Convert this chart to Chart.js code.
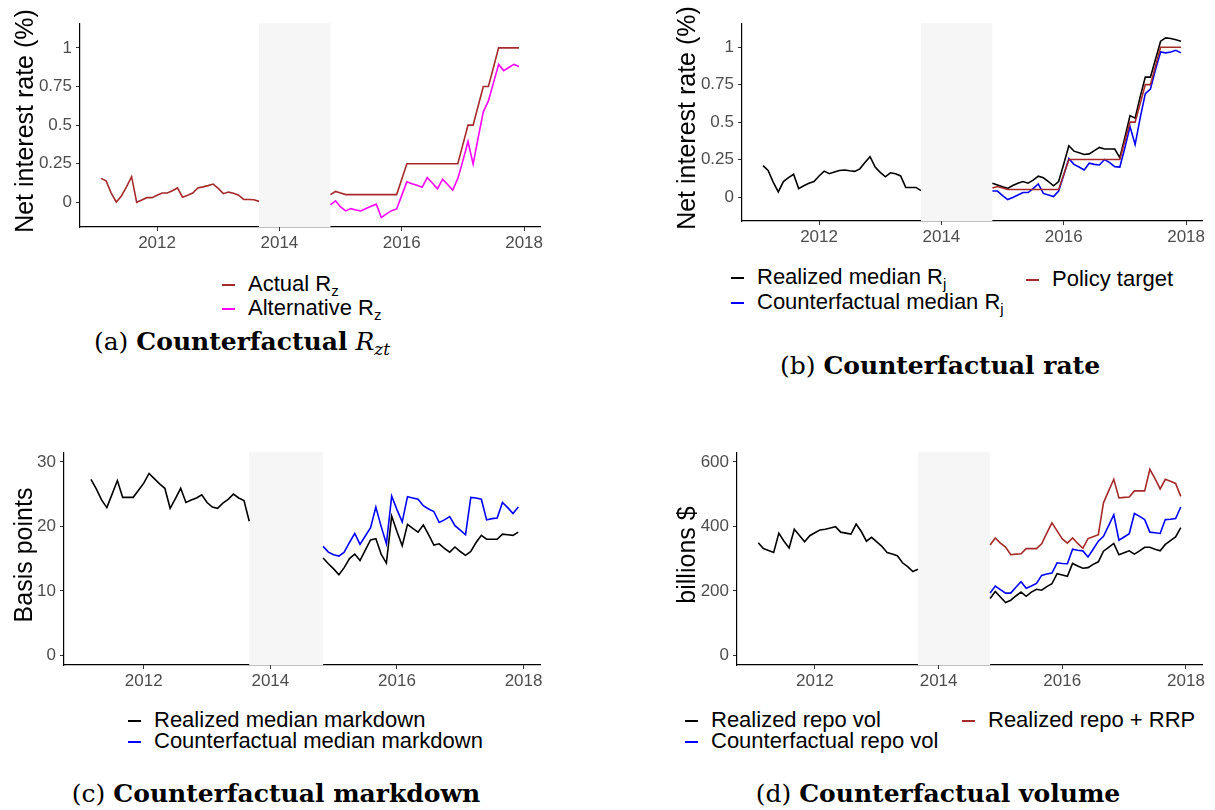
<!DOCTYPE html>
<html>
<head>
<meta charset="utf-8">
<script src="https://cdn.jsdelivr.net/npm/chart.js@4.4.0/dist/chart.umd.min.js"></script>
<style>
body{margin:0;background:#fff;width:1215px;height:810px;position:relative;overflow:hidden;font-family:'Liberation Sans',Arial,sans-serif}
canvas{position:absolute}
.ytitle{position:absolute;font-size:25px;color:#000;white-space:nowrap;transform:translate(-50%,-50%) rotate(-90deg)}
.leg{position:absolute;font-size:22px;line-height:22px;color:#000;white-space:nowrap;transform:translateY(-50%)}
.leg i{display:inline-block;width:13px;height:2px;vertical-align:middle;margin-right:13px}
.leg sub{font-size:15px;line-height:0;vertical-align:-5px}
.cap{position:absolute;font-family:'DejaVu Serif',serif;font-size:25px;color:#000;white-space:nowrap;transform:translate(-50%,-50%)}
.cap b{font-weight:bold}
.cap em sub{font-size:17px;line-height:0;vertical-align:-5px}
</style>
</head>
<body>
<canvas id="chartA"></canvas>
<canvas id="chartB"></canvas>
<canvas id="chartC"></canvas>
<canvas id="chartD"></canvas>

<div class="ytitle" style="left:24px;top:121px">Net interest rate (%)</div>
<div class="ytitle" style="left:686px;top:118px">Net interest rate (%)</div>
<div class="ytitle" style="left:23px;top:555px">Basis points</div>
<div class="ytitle" style="left:686px;top:555px">billions $</div>

<div class="leg" style="left:222px;top:284px"><i style="background:#A52A2A"></i>Actual R<sub>z</sub></div>
<div class="leg" style="left:222px;top:308px"><i style="background:#FF00FF"></i>Alternative R<sub>z</sub></div>

<div class="leg" style="left:731px;top:277px"><i style="background:#000"></i>Realized median R<sub>j</sub></div>
<div class="leg" style="left:731px;top:302px"><i style="background:#0000FF"></i>Counterfactual median R<sub>j</sub></div>
<div class="leg" style="left:1026px;top:279px"><i style="background:#A52A2A"></i>Policy target</div>

<div class="leg" style="left:128px;top:720px"><i style="background:#000"></i>Realized median markdown</div>
<div class="leg" style="left:128px;top:741px"><i style="background:#0000FF"></i>Counterfactual median markdown</div>

<div class="leg" style="left:685px;top:720px"><i style="background:#000"></i>Realized repo vol</div>
<div class="leg" style="left:685px;top:741px"><i style="background:#0000FF"></i>Counterfactual repo vol</div>
<div class="leg" style="left:962px;top:720px"><i style="background:#A52A2A"></i>Realized repo + RRP</div>

<div class="cap" style="left:242px;top:341px">(a) <b>Counterfactual</b> <em>R<sub>zt</sub></em></div>
<div class="cap" style="left:940px;top:365px">(b) <b>Counterfactual rate</b></div>
<div class="cap" style="left:276px;top:793px">(c) <b>Counterfactual markdown</b></div>
<div class="cap" style="left:938px;top:793px">(d) <b>Counterfactual volume</b></div>

<script>
// ===== MOIS =====
const monthsPre = ['2011-02','2011-03','2011-04','2011-05','2011-06','2011-07','2011-08','2011-09','2011-10','2011-11','2011-12',
    '2012-01','2012-02','2012-03','2012-04','2012-05','2012-06','2012-07','2012-08','2012-09','2012-10','2012-11','2012-12',
    '2013-01','2013-02','2013-03','2013-04','2013-05','2013-06','2013-07','2013-08','2013-09']
const monthsPost = ['2014-11','2014-12',
    '2015-01','2015-02','2015-03','2015-04','2015-05','2015-06','2015-07','2015-08','2015-09','2015-10','2015-11','2015-12',
    '2016-01','2016-02','2016-03','2016-04','2016-05','2016-06','2016-07','2016-08','2016-09','2016-10','2016-11','2016-12',
    '2017-01','2017-02','2017-03','2017-04','2017-05','2017-06','2017-07','2017-08','2017-09','2017-10','2017-11','2017-12']
const shadeFrom = '2013-09'
const shadeTo = '2014-11'
const xTicks = [2012, 2014, 2016, 2018]

// ===== (a) R_z =====
const actualRzPre = [0.155, 0.139, 0.06, 0.002, 0.041, 0.10, 0.166, 0.0, 0.015, 0.03, 0.03, 0.045, 0.06, 0.06, 0.075, 0.093,
    0.033, 0.045, 0.06, 0.093, 0.10, 0.108, 0.118, 0.09, 0.056, 0.066, 0.058, 0.046, 0.019, 0.018, 0.017, 0.006]
const actualRzPost = [0.05, 0.07, 0.06, 0.05, 0.05, 0.05, 0.05, 0.05, 0.05, 0.05, 0.05, 0.05, 0.05, 0.05, 0.15,
    0.25, 0.25, 0.25, 0.25, 0.25, 0.25, 0.25, 0.25, 0.25, 0.25, 0.25, 0.375, 0.5, 0.5, 0.625, 0.75, 0.75, 0.875, 1, 1, 1, 1, 1]
const altRzPost = [-0.016, 0.01, -0.03, -0.056, -0.041, -0.05, -0.056, -0.04, -0.025, -0.012, -0.099, -0.075, -0.054, -0.043,
    0.045, 0.133, 0.12, 0.11, 0.097, 0.16, 0.125, 0.087, 0.149, 0.115, 0.079, 0.155, 0.27, 0.394, 0.247, 0.42, 0.586, 0.657,
    0.775, 0.893, 0.853, 0.873, 0.893, 0.88]

// ===== (b) R_j =====
const realRjPre = [0.209, 0.177, 0.10, 0.034, 0.103, 0.13, 0.152, 0.056, 0.075, 0.092, 0.103, 0.14, 0.173, 0.156, 0.167, 0.177,
    0.18, 0.175, 0.171, 0.188, 0.23, 0.269, 0.2, 0.165, 0.135, 0.162, 0.155, 0.141, 0.064, 0.064, 0.064, 0.043]
const realRjPost = [0.092, 0.081, 0.068, 0.058, 0.077, 0.092, 0.103, 0.092, 0.113, 0.139, 0.128, 0.103, 0.075, 0.103, 0.22,
    0.342, 0.306, 0.295, 0.284, 0.288, 0.31, 0.331, 0.32, 0.32, 0.32, 0.263, 0.40, 0.543, 0.526, 0.67, 0.80, 0.80, 0.92,
    1.04, 1.062, 1.058, 1.05, 1.04]
const cfRjPost = [0.04, 0.04, 0.01, -0.017, -0.003, 0.014, 0.03, 0.03, 0.056, 0.087, 0.024, 0.014, 0.003, 0.04, 0.147,
    0.256, 0.218, 0.2, 0.18, 0.226, 0.218, 0.214, 0.25, 0.23, 0.203, 0.2, 0.33, 0.47, 0.35, 0.53, 0.69, 0.72, 0.85,
    0.968, 0.962, 0.968, 0.979, 0.962]
const policyPost = [0.06, 0.07, 0.06, 0.05, 0.05, 0.05, 0.05, 0.05, 0.05, 0.05, 0.05, 0.05, 0.05, 0.05, 0.15,
    0.25, 0.25, 0.25, 0.25, 0.25, 0.25, 0.25, 0.25, 0.25, 0.25, 0.25, 0.375, 0.5, 0.5, 0.625, 0.75, 0.75, 0.875, 1, 1, 1, 1, 1]

// ===== (c) markdown =====
const mdPre = [null, 27.3, 25.8, 24.1, 22.9, 25.0, 27.1, 24.5, 24.5, 24.5, 25.6, 26.7, 28.2, 27.4, 26.6, 25.9,
    22.8, 24.3, 25.9, 23.7, 24.1, 24.4, 24.9, 23.7, 23.0, 22.8, 23.6, 24.2, 25.0, 24.4, 24.0, 20.8]
const mdPost = [15.1, 14.2, 13.4, 12.5, 13.6, 15.0, 15.7, 14.7, 16.3, 17.9, 18.1, 15.7, 14.3, 21.6, 19.2,
    17.0, 20.3, 19.7, 19.1, 20.2, 18.7, 17.1, 17.3, 16.6, 16.0, 16.8, 16.1, 15.5, 16.1, 17.5, 18.6, 18.0, 18.0,
    18.0, 18.8, 18.7, 18.6, 19.1]
const cfMdPost = [16.9, 16.0, 15.6, 15.4, 16.0, 17.5, 18.9, 17.2, 18.5, 19.8, 23.0, 20.0, 17.3, 24.7, 22.6,
    20.7, 24.6, 24.4, 24.2, 23.2, 22.7, 22.3, 20.6, 21.0, 21.5, 20.1, 19.4, 18.7, 24.5, 24.4, 24.2, 21.0, 21.2,
    21.3, 23.7, 22.9, 22.0, 23.0]

// ===== (d) volume =====
const repoPre = [349, 331, 325, 319, 379, 354, 333, 391, 372, 352, 371, 380, 389, 391, 395, 399,
    382, 379, 376, 407, 384, 354, 366, 352, 338, 319, 314, 309, 287, 275, 260, 267]
const repoPost = [176, 198, 181, 164, 171, 184, 196, 183, 196, 205, 202, 213, 222, 253, 249, 245, 285, 277, 270,
    272, 282, 290, 323, 335, 347, 312, 318, 324, 314, 324, 335, 335, 329, 324, 344, 356, 367, 396]
const cfRepoPost = [193, 215, 204, 193, 193, 211, 228, 208, 215, 223, 248, 252, 255, 287, 285, 284, 329, 326, 324,
    305, 329, 354, 369, 402, 436, 357, 367, 377, 440, 431, 421, 382, 380, 378, 421, 422, 424, 460]
const repoRrpPost = [342, 364, 348, 336, 312, 314, 315, 331, 331, 331, 346, 379, 411, 386, 361, 348, 364, 347, 332,
    362, 368, 374, 473, 510, 546, 488, 490, 491, 510, 510, 510, 577, 548, 516, 546, 540, 533, 493]

const rateTicks = [0, 0.25, 0.5, 0.75, 1]
const bpTicks = [0, 10, 20, 30]
const volTicks = [0, 200, 400, 600]

const brun = '#A52A2A'
const magenta = '#FF00FF'
const bleu = '#0000FF'
const noir = '#000000'
const gris = '#4D4D4D'

function toYear(m) {
    return +m.slice(0, 4) + (+m.slice(5, 7) - 1) / 12
}

// points avant + trou + points apres
function serie(pre, post) {
    const out = []
    if(pre) pre.forEach((v, i) => out.push({ x: toYear(monthsPre[i]), y: v }))
    out.push({ x: (toYear(shadeFrom) + toYear(shadeTo)) / 2, y: null })
    post.forEach((v, i) => out.push({ x: toYear(monthsPost[i]), y: v }))
    return out
}

// bande grise de la periode manquante
const bandeGrise = {
    id: 'bandeGrise',
    beforeDatasetsDraw(chart) {
        const { ctx, chartArea, scales } = chart
        const x0 = scales.x.getPixelForValue(toYear(shadeFrom))
        const x1 = scales.x.getPixelForValue(toYear(shadeTo))
        ctx.save()
        ctx.fillStyle = '#F6F6F6'
        ctx.fillRect(x0, chartArea.top, x1 - x0, chartArea.bottom - chartArea.top)
        ctx.restore()
    }
}

const YW = 70, XH = 32, PAD = 6

function panneau(id, box, yMin, yMax, yTicks, series) {
    const cv = document.getElementById(id)
    const w = box.r - box.l + YW + PAD
    const h = box.b - box.t + PAD + XH
    cv.width = w
    cv.height = h
    cv.style.left = (box.l - YW) + 'px'
    cv.style.top = (box.t - PAD) + 'px'
    cv.style.width = w + 'px'
    cv.style.height = h + 'px'

    const axe = {
        grid: { drawOnChartArea: false, drawTicks: true, tickLength: 4, color: '#333333', lineWidth: 1 },
        border: { display: true, color: noir, width: 1.2 }
    }

    new Chart(cv, {
        type: 'line',
        data: {
            datasets: series.map(s => ({
                data: s.data,
                borderColor: s.color,
                borderWidth: 1.6,
                pointRadius: 0,
                fill: false,
                tension: 0,
                spanGaps: false,
                order: s.order
            }))
        },
        options: {
            responsive: false,
            animation: false,
            devicePixelRatio: 1,
            layout: { padding: { top: PAD, right: PAD, left: 0, bottom: 0 } },
            plugins: { legend: { display: false }, tooltip: { enabled: false } },
            scales: {
                x: {
                    type: 'linear', min: 2010.74, max: 2018.26,
                    afterBuildTicks: s => { s.ticks = xTicks.map(v => ({ value: v })) },
                    afterFit: s => { s.height = XH },
                    ticks: { callback: v => String(v), color: gris, font: { size: 17 }, padding: 2, maxRotation: 0, autoSkip: false },
                    ...axe
                },
                y: {
                    type: 'linear', min: yMin, max: yMax,
                    afterBuildTicks: s => { s.ticks = yTicks.map(v => ({ value: v })) },
                    afterFit: s => { s.width = YW },
                    ticks: { callback: v => String(v), color: gris, font: { size: 17 }, padding: 4, autoSkip: false },
                    ...axe
                }
            }
        },
        plugins: [bandeGrise]
    })
}

Chart.defaults.font.family = "'Liberation Sans', Arial, sans-serif"

panneau('chartA', { l: 80, t: 15, r: 540, b: 227 }, -0.16, 1.16, rateTicks, [
    { data: serie(actualRzPre, actualRzPost), color: brun, order: 2 },
    { data: serie(null, altRzPost), color: magenta, order: 1 }
])

panneau('chartB', { l: 742, t: 15, r: 1202, b: 221 }, -0.16, 1.16, rateTicks, [
    { data: serie(realRjPre, realRjPost), color: noir, order: 3 },
    { data: serie(null, cfRjPost), color: bleu, order: 2 },
    { data: serie(null, policyPost), color: brun, order: 1 }
])

panneau('chartC', { l: 64, t: 444, r: 540, b: 665 }, -1.5, 31.5, bpTicks, [
    { data: serie(mdPre, mdPost), color: noir, order: 2 },
    { data: serie(null, cfMdPost), color: bleu, order: 1 }
])

panneau('chartD', { l: 737, t: 444, r: 1202, b: 665 }, -30, 630, volTicks, [
    { data: serie(repoPre, repoPost), color: noir, order: 3 },
    { data: serie(null, cfRepoPost), color: bleu, order: 2 },
    { data: serie(null, repoRrpPost), color: brun, order: 1 }
])
</script>
</body>
</html>
